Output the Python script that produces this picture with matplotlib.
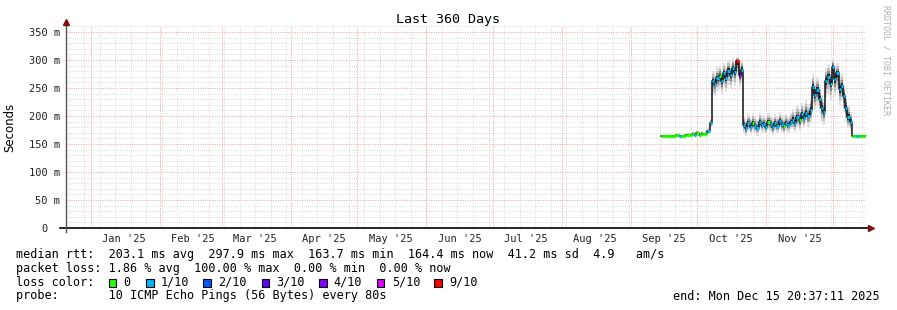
import matplotlib
matplotlib.use("Agg")
import matplotlib.dates as mdates
import matplotlib.pyplot as plt
import numpy as np
import pandas as pd
from matplotlib.patches import Rectangle

W, H = 897, 310
START = pd.Timestamp("2024-12-20 20:37:11")
END = pd.Timestamp("2025-12-15 20:37:11")
FIRST_DAY = "2025-09-14 12:00"

# daily median rtt (ms), Sep 14 .. Dec 15
median_ms = [
    164.2, 164.0, 164.8, 163.7, 164.3, 165.0, 164.1, 165.6, 164.7, 164.2, 165.1,
    165.8, 166.5, 165.2, 167.6, 166.8, 168.9, 166.1, 168.3, 167.2, 168.0,
    173.5, 187.0,
    262, 258, 267, 271, 263, 276, 268, 281, 273, 286, 278, 297.9, 273, 283,
    184, 178, 187, 181, 188, 183, 179, 190, 184, 186, 181, 189, 185, 180, 187,
    183, 191, 185, 182, 188, 184, 190,
    193, 188, 198, 192, 203, 196, 206, 200, 211,
    252, 238, 246, 231, 214, 207, 262, 270, 258, 288, 266, 276, 248, 254, 236,
    214, 198, 190,
    164.6, 164.1, 165.0, 164.3, 164.8, 164.0, 164.4,
]
smoke_lo = [
    163.2, 163.1, 163.8, 162.9, 163.3, 164.0, 163.2, 164.5, 163.6, 163.2, 164.0,
    164.6, 165.0, 164.0, 165.8, 165.2, 166.8, 164.8, 166.5, 165.8, 166.5,
    170, 180,
    238, 235, 244, 248, 240, 252, 243, 255, 249, 260, 254, 270, 252, 259,
    170, 164, 173, 167, 174, 169, 165, 176, 170, 172, 167, 175, 171, 166, 173,
    169, 177, 171, 168, 174, 170, 176,
    176, 171, 180, 174, 184, 178, 187, 181, 190,
    222, 210, 218, 204, 190, 184, 232, 240, 228, 258, 236, 246, 220, 226, 208,
    190, 178, 174,
    163.8, 163.3, 164.0, 163.5, 164.0, 163.2, 163.6,
]
smoke_hi = [
    165.5, 165.3, 166.0, 165.2, 165.6, 166.4, 165.5, 167.2, 166.2, 165.7, 166.8,
    168.0, 170.5, 168.0, 172.5, 170.0, 175.0, 170.0, 174.0, 171.5, 173.0,
    178, 195,
    280, 277, 287, 290, 282, 294, 287, 300, 292, 304, 298, 306, 294, 300,
    200, 194, 203, 197, 204, 199, 195, 206, 200, 202, 197, 205, 201, 196, 203,
    199, 207, 201, 198, 204, 200, 206,
    213, 208, 219, 213, 224, 217, 228, 221, 233,
    275, 261, 269, 255, 238, 231, 285, 292, 282, 302, 288, 294, 272, 276, 258,
    238, 220, 208,
    166.0, 165.5, 166.5, 165.8, 166.2, 165.4, 165.8,
]
loss_tenths = [
    0, 0, 0, 0, 0, 0, 0, 0, 1, 0, 0, 0, 0, 0, 0, 1, 0, 0, 0, 0, 0,
    1, 1,
    1, 1, 1, 0, 1, 1, 1, 1, 1, 1, 1, 9, 4, 1,
    1, 1, 1, 1, 0, 1, 1, 1, 1, 1, 1, 0, 1, 1, 1, 1, 1, 1, 0, 1, 1, 1,
    1, 1, 1, 0, 1, 1, 1, 1, 1,
    1, 1, 1, 1, 1, 1, 1, 1, 1, 1, 1, 1, 1, 1, 1, 1, 1, 1,
    0, 0, 1, 0, 0, 0, 0,
]

LOSS_COLORS = {0: "#26ff00", 1: "#00b8ff", 2: "#0059ff", 3: "#5e00ff",
               4: "#7e00ff", 5: "#dd00ff", 9: "#ff0000"}
LOSS_LABELS = {0: "0", 1: "1/10", 2: "2/10", 3: "3/10", 4: "4/10", 5: "5/10", 9: "9/10"}

y_ticks = [0, 50, 100, 150, 200, 250, 300, 350]
y_labels = ["0  ", "50 m", "100 m", "150 m", "200 m", "250 m", "300 m", "350 m"]
month_labels = ["Jan '25", "Feb '25", "Mar '25", "Apr '25", "May '25", "Jun '25",
                "Jul '25", "Aug '25", "Sep '25", "Oct '25", "Nov '25"]

stats_rtt = "median rtt:  203.1 ms avg  297.9 ms max  163.7 ms min  164.4 ms now  41.2 ms sd  4.9   am/s"
stats_loss = "packet loss: 1.86 % avg  100.00 % max  0.00 % min  0.00 % now"
probe_txt = "probe:       10 ICMP Echo Pings (56 Bytes) every 80s"
end_txt = "end: Mon Dec 15 20:37:11 2025"

plt.rcParams["font.family"] = ["DejaVu Sans Mono"]

fig = plt.figure(figsize=(W / 100, H / 100), dpi=100)
fig.patch.set_facecolor("white")
ax = fig.add_axes([66 / W, (H - 228) / H, 800 / W, (228 - 26.4) / H])
ax.set_xlim(mdates.date2num(START), mdates.date2num(END))
ax.set_ylim(0, 360)
for s in ax.spines.values():
    s.set_visible(False)

# ── grid ───────────────────────────────────────────────────────────────────────
dot = (0, (1, 1.5))
for v in range(10, 361, 10):
    if v % 50 == 0:
        ax.axhline(v, color="#f4a0a0", lw=0.7, ls=dot, zorder=1)
    else:
        ax.axhline(v, color="#d4d4d4", lw=0.6, ls=dot, zorder=0)
for d in pd.date_range("2024-12-22", END, freq="7D"):
    ax.axvline(mdates.date2num(d), color="#d4d4d4", lw=0.6, ls=dot, zorder=0)
for d in pd.date_range("2025-01-01", END, freq="MS"):
    ax.axvline(mdates.date2num(d), color="#f4a0a0", lw=0.7, ls=dot, zorder=1)

# ── smoke + median ────────────────────────────────────────────────────────────
days = pd.date_range(FIRST_DAY, periods=len(median_ms), freq="D")
xs = mdates.date2num(days)
edges = np.append(xs, xs[-1] + 1)
med = np.array(median_ms, dtype=float)
lo = np.array(smoke_lo, dtype=float)
hi = np.array(smoke_hi, dtype=float)


def ext(a):
    return np.append(a, a[-1])


for frac, col in [(1.0, "#e2e2e2"), (0.7, "#bebebe"), (0.45, "#888888"), (0.22, "#222222")]:
    ax.fill_between(edges, ext(med - frac * (med - lo)), ext(med + frac * (hi - med)),
                    step="post", color=col, lw=0, zorder=3)

ax.plot(edges, ext(med), drawstyle="steps-post", color="#111111", lw=1.1, zorder=4)
ax.hlines(med, xs, xs + 1, colors=[LOSS_COLORS[l] for l in loss_tenths], lw=2.4, zorder=5)

# ── axes, ticks ───────────────────────────────────────────────────────────────
ax.plot([-0.008, 1.004], [0, 0], transform=ax.transAxes, color="black", lw=1.2,
        clip_on=False, zorder=6)
ax.plot([0, 0], [-0.02, 1.02], transform=ax.transAxes, color="#555555", lw=1.0,
        clip_on=False, zorder=6)
ax.plot(1.006, 0, marker=">", ms=4, color="#7a1010", transform=ax.transAxes,
        clip_on=False, zorder=7)
ax.plot(0, 1.022, marker="^", ms=4, color="#7a1010", transform=ax.transAxes,
        clip_on=False, zorder=7)

ax.set_yticks(y_ticks, y_labels)
label_days = pd.date_range("2025-01-01", periods=len(month_labels), freq="MS") + pd.Timedelta(days=15)
ax.set_xticks(mdates.date2num(label_days), month_labels)
ax.tick_params(length=0, labelsize=7.5, colors="#222222")
ax.tick_params(axis="y", pad=4)
ax.tick_params(axis="x", pad=4)

# ── titles ────────────────────────────────────────────────────────────────────
fig.text(448 / W, 1 - 19 / H, "Last 360 Days", ha="center", va="center", fontsize=9.6)
fig.text(10 / W, 1 - 127 / H, "Seconds", rotation=90, ha="center", va="center",
         fontsize=8.5, family="DejaVu Sans")
fig.text(886 / W, 1 - 5 / H, "RRDTOOL / TOBI OETIKER", rotation=-90, ha="center",
         va="top", fontsize=6, color="#b0b0b0")

# ── legend block ──────────────────────────────────────────────────────────────
fs = 8.5
fig.text(16 / W, 1 - 254.5 / H, stats_rtt, va="center", fontsize=fs)
fig.text(16 / W, 1 - 268.3 / H, stats_loss, va="center", fontsize=fs)
fig.text(16 / W, 1 - 282.3 / H, "loss color:", va="center", fontsize=fs)
fig.text(16 / W, 1 - 296 / H, probe_txt, va="center", fontsize=fs)
fig.text(880 / W, 1 - 296 / H, end_txt, ha="right", va="center", fontsize=fs)

box_x = [108.7, 146, 203.3, 261.7, 319, 376.7, 434.3]
txt_x = [123.3, 160.7, 218.3, 276, 333.3, 391.7, 449.3]
for key, bx, tx in zip(LOSS_COLORS, box_x, txt_x):
    fig.add_artist(Rectangle((bx / W, 1 - 286.7 / H), 7.5 / W, 7.5 / H,
                             transform=fig.transFigure, facecolor=LOSS_COLORS[key],
                             edgecolor="black", lw=0.8))
    fig.text(tx / W, 1 - 282.3 / H, LOSS_LABELS[key], va="center", fontsize=fs)

fig.savefig("out.png", dpi=100)
